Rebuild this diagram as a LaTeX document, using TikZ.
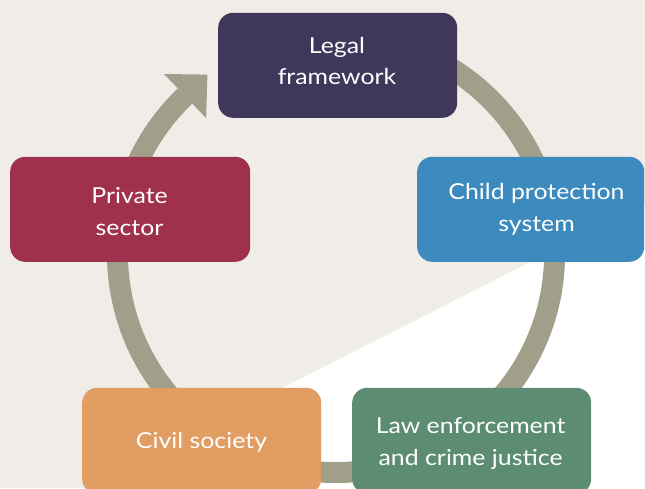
\documentclass[tikz,border=0pt]{standalone}
\usepackage{fontspec}
\setmainfont{Lato}[FakeStretch=1.13]
\usetikzlibrary{calc}
\definecolor{bgbeige}{HTML}{F0EDE8}
\definecolor{ringc}{HTML}{A19F8A}
\definecolor{legalc}{HTML}{3F385B}
\definecolor{childc}{HTML}{3D8BBE}
\definecolor{privc}{HTML}{9F314C}
\definecolor{civilc}{HTML}{E29D63}
\definecolor{lawc}{HTML}{5C8D72}
\begin{document}
\begin{tikzpicture}[x=1pt,y=1pt,
  box/.style={draw=none, rounded corners=15pt, inner sep=0pt, anchor=south west},
  lbl/.style={text=white, align=center, font=\fontsize{22}{31.7}\selectfont, anchor=base, inner sep=0pt},
  ring/.style={draw=ringc, line width=21pt}]
\useasboundingbox (0,0) rectangle (645,488);
\clip (0,0) rectangle (645,488);
\fill[bgbeige] (0,0) rectangle (645,488);
\fill[white] (85,0) -- (645,284) -- (645,0) -- cycle;
% ring
\coordinate (c) at (336,234);
\draw[ring] ($(c)+(100:218.5pt)$) arc[start angle=100, end angle=-226.3, radius=218.5pt];
\coordinate (m) at ($(c)+(133.7:218.5pt)$);
\fill[ringc] ($(m)+(133.7:30.5pt)$) -- ($(m)+(43.7:31pt)$) -- ($(m)+(-46.3:30.5pt)$) -- cycle;
% boxes
\node[box, fill=legalc, minimum width=239pt, minimum height=105pt] (legal) at (218,370) {};
\node[box, fill=childc, minimum width=227pt, minimum height=105pt] (child) at (417,226) {};
\node[box, fill=privc, minimum width=240pt, minimum height=105pt] (priv) at (10,226) {};
\node[box, fill=civilc, minimum width=239pt, minimum height=106pt] (civil) at (82,-6) {};
\node[box, fill=lawc, minimum width=239pt, minimum height=106pt] (law) at (352,-6) {};
% labels (base = baseline of the last line)
\node[lbl] (legalt) at (337,403) {Legal\\framework};
\node[lbl] (childt) at (536.5,256.3) {Child protection\\system};
\node[lbl] (privt) at (129.5,253) {Private\\sector};
\node[lbl] (civilt) at (201.5,39.7) {Civil society};
\node[lbl] (lawt) at (470.6,23) {Law enforcement\\and crime justice};
\end{tikzpicture}
\end{document}
